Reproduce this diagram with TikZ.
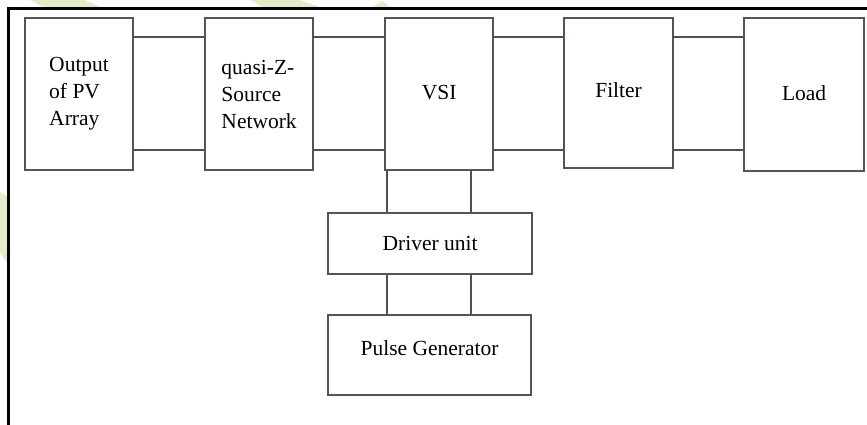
\documentclass[tikz,border=0pt]{standalone}
\usepackage{fontspec}
\setmainfont{Liberation Serif}
\definecolor{boxcol}{HTML}{555555}
\definecolor{conncol}{HTML}{5A4852}
\definecolor{wmark}{HTML}{E2ECCB}
\begin{document}
\begin{tikzpicture}[x=1pt,y=-1pt,
  blk/.style={draw=boxcol, line width=2.2pt, rectangle, anchor=north west, inner sep=0pt,
    font=\fontsize{21.5}{27}\selectfont, align=left},
  conn/.style={draw=conncol, line width=1.5pt},
  frame/.style={draw=black, line width=2.8pt}]
\useasboundingbox (0,0) rectangle (867,425);
% faint watermark fragments
\fill[wmark] (30,0) -- (85,0) -- (100,7) -- (43,7) -- cycle;
\fill[wmark] (250,0) -- (300,0) -- (320,7) -- (263,7) -- cycle;
\fill[wmark] (373,7) -- (382,1) -- (390,7) -- cycle;
\fill[wmark] (0,192) -- (7,196) -- (7,263) -- (0,252) -- cycle;
% frame
\draw[frame] (8.7,425) -- (8.7,8.5) -- (867,8.5);
% blocks
\node[blk, minimum width=108pt, minimum height=152pt] (pv) at (24,17) {Output\\of PV\\Array};
\node[blk, minimum width=108pt, minimum height=152pt] (qz) at (204,17) {quasi-Z-\\Source\\Network};
\node[blk, minimum width=108pt, minimum height=152pt, text depth=4pt] (vsi) at (384,17) {VSI};
\node[blk, minimum width=109pt, minimum height=150pt, text depth=6pt] (filt) at (563,17) {Filter};
\node[blk, minimum width=120pt, minimum height=153pt, text depth=4pt] (load) at (743,17) {Load};
\node[blk, minimum width=204pt, minimum height=61pt] (drv) at (327,212) {Driver unit};
\node[blk, minimum width=203pt, minimum height=80pt, text depth=14pt] (pg) at (327,314) {Pulse Generator};
% helper coordinates
\coordinate (up) at (0,37);
\coordinate (lo) at (0,150);
\coordinate (cl) at (387,0);
\coordinate (cr) at (471,0);
% horizontal connectors
\draw[conn] (pv.east |- up) -- (qz.west |- up);
\draw[conn] (pv.east |- lo) -- (qz.west |- lo);
\draw[conn] (qz.east |- up) -- (vsi.west |- up);
\draw[conn] (qz.east |- lo) -- (vsi.west |- lo);
\draw[conn] (vsi.east |- up) -- (filt.west |- up);
\draw[conn] (vsi.east |- lo) -- (filt.west |- lo);
\draw[conn] (filt.east |- up) -- (load.west |- up);
\draw[conn] (filt.east |- lo) -- (load.west |- lo);
% vertical connectors
\draw[conn] (vsi.south -| cl) -- (drv.north -| cl);
\draw[conn] (vsi.south -| cr) -- (drv.north -| cr);
\draw[conn] (drv.south -| cl) -- (pg.north -| cl);
\draw[conn] (drv.south -| cr) -- (pg.north -| cr);
\end{tikzpicture}
\end{document}
